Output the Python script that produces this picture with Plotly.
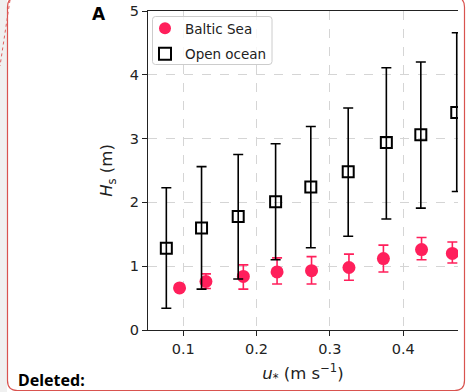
import plotly.graph_objects as go

# ---- data ----
ocean_u = [0.077, 0.125, 0.175, 0.226, 0.274, 0.325, 0.377, 0.424, 0.473]
ocean_hs = [1.28, 1.60, 1.78, 2.01, 2.24, 2.48, 2.94, 3.06, 3.41]
ocean_hi = [2.23, 2.56, 2.75, 2.92, 3.19, 3.48, 4.11, 4.20, 4.66]
ocean_lo = [0.34, 0.64, 0.80, 1.10, 1.29, 1.47, 1.74, 1.91, 2.17]

baltic_u = [0.095, 0.131, 0.182, 0.228, 0.275, 0.326, 0.373, 0.425, 0.467]
baltic_hs = [0.66, 0.76, 0.84, 0.91, 0.93, 0.98, 1.12, 1.26, 1.20]
baltic_hi = [0.70, 0.88, 1.02, 1.13, 1.15, 1.19, 1.33, 1.45, 1.38]
baltic_lo = [0.62, 0.65, 0.64, 0.72, 0.72, 0.78, 0.91, 1.10, 1.05]

x_ticks = [0.1, 0.2, 0.3, 0.4]
x_ticklabels = ["0.1", "0.2", "0.3", "0.4"]
y_ticks = [0, 1, 2, 3, 4, 5]
y_ticklabels = ["0", "1", "2", "3", "4", "5"]

# ---- layout geometry (pixels) ----
W, H = 466, 392
L, R, T, B = 148, 458, 11, 330

def px(x):
    return (x - L) / (R - L)

def py(y):
    return (B - y) / (B - T)

PINK = "#FF1F5B"
AX = "#222222"
FONT = "DejaVu Sans"

fig = go.Figure()

fig.add_trace(go.Scatter(
    x=baltic_u, y=baltic_hs, mode="markers", name="Baltic Sea", legendgroup="b",
    marker=dict(symbol="circle", size=13, color=PINK),
    error_y=dict(type="data", symmetric=False,
                 array=[h - v for h, v in zip(baltic_hi, baltic_hs)],
                 arrayminus=[v - l for v, l in zip(baltic_hs, baltic_lo)],
                 color=PINK, thickness=1.6, width=5),
))
fig.add_trace(go.Scatter(
    x=ocean_u, y=ocean_hs, mode="markers", name="Open ocean", legendgroup="o",
    marker=dict(symbol="square-open", size=11, color="black",
                line=dict(width=2, color="black")),
    error_y=dict(type="data", symmetric=False,
                 array=[h - v for h, v in zip(ocean_hi, ocean_hs)],
                 arrayminus=[v - l for v, l in zip(ocean_hs, ocean_lo)],
                 color="black", thickness=1.6, width=5),
))

def P(x, y):
    return f"{px(x):.5f},{py(y):.5f}"

def rounded(l, t, r_, b, rad):
    return (f"M{P(l, t + rad)} L{P(l, b - rad)} Q{P(l, b)} {P(l + rad, b)} "
            f"L{P(r_ - rad, b)} Q{P(r_, b)} {P(r_, b - rad)} "
            f"L{P(r_, t + rad)} Q{P(r_, t)} {P(r_ - rad, t)} "
            f"L{P(l + rad, t)} Q{P(l, t)} {P(l, t + rad)} Z")

shapes = []
# grey page background at far left
shapes.append(dict(type="rect", xref="paper", yref="paper",
                   x0=px(-20), x1=px(7), y0=py(400), y1=py(-10),
                   fillcolor="#f0f0f0", line=dict(width=0), layer="below"))
# rounded red comment border
shapes.append(dict(type="path", xref="paper", yref="paper",
                   path=rounded(7.5, -3, 464.5, 390.5, 10),
                   line=dict(color="#d9534f", width=1.2), fillcolor="rgba(0,0,0,0)",
                   layer="above"))
# dotted connector line
shapes.append(dict(type="line", xref="paper", yref="paper",
                   x0=px(10), y0=py(0), x1=px(0), y1=py(66),
                   line=dict(color="#e06060", width=1, dash="dot"), layer="above"))
# legend frame (matplotlib-style, rounded)
shapes.append(dict(type="path", xref="paper", yref="paper",
                   path=rounded(152.5, 16.5, 272, 64.5, 3),
                   line=dict(color="#cccccc", width=1), fillcolor="rgba(255,255,255,0.8)",
                   layer="above"))

annotations = [
    dict(text="<b>A</b>", xref="paper", yref="paper", x=px(99), y=py(14),
         xanchor="center", yanchor="middle", showarrow=False,
         font=dict(family=FONT, size=17, color="black")),
    dict(text="<b>Deleted:</b>", xref="paper", yref="paper", x=px(16), y=py(380),
         xanchor="left", yanchor="middle", showarrow=False,
         font=dict(family="Noto Sans", size=16, color="black")),
]

fig.update_layout(
    width=W, height=H,
    margin=dict(l=L, r=W - R, t=T, b=H - B, autoexpand=False),
    paper_bgcolor="white", plot_bgcolor="white",
    font=dict(family=FONT, size=14.5, color=AX),
    showlegend=True,
    legend=dict(x=px(145), y=py(13), xanchor="left", yanchor="top",
                bgcolor="rgba(0,0,0,0)", borderwidth=0,
                font=dict(family=FONT, size=13.5, color=AX),
                traceorder="grouped", tracegroupgap=5,
                itemsizing="constant", itemwidth=30),
    shapes=shapes,
    annotations=annotations,
)

fig.update_xaxes(
    range=[0.052, 0.4747], tickvals=x_ticks, ticktext=x_ticklabels,
    showline=True, linecolor=AX, linewidth=1.3, mirror=True,
    ticks="outside", ticklen=5, tickwidth=1.3, tickcolor=AX,
    showgrid=True, gridcolor="#d5d5d5", gridwidth=1, griddash="dash",
    zeroline=False, automargin=False,
    tickfont=dict(family=FONT, size=14.5, color=AX),
    title=dict(text="<i>u</i><sub>*</sub> (m s<sup>\u22121</sup>)", standoff=11,
               font=dict(family=FONT, size=16.5, color=AX)),
)
fig.update_yaxes(
    range=[0, 5], tickvals=y_ticks, ticktext=y_ticklabels,
    showline=True, linecolor=AX, linewidth=1.3, mirror=False,
    ticks="outside", ticklen=5, tickwidth=1.3, tickcolor=AX,
    showgrid=True, gridcolor="#d5d5d5", gridwidth=1, griddash="dash",
    zeroline=False, automargin=False,
    tickfont=dict(family=FONT, size=14.5, color=AX),
    title=dict(text="<i>H</i><sub>s</sub> (m)", standoff=12,
               font=dict(family=FONT, size=16.5, color=AX)),
)

fig.write_html("out.html", config={"displayModeBar": False},
               post_script="document.body.style.margin='0';document.body.style.overflow='hidden';")
